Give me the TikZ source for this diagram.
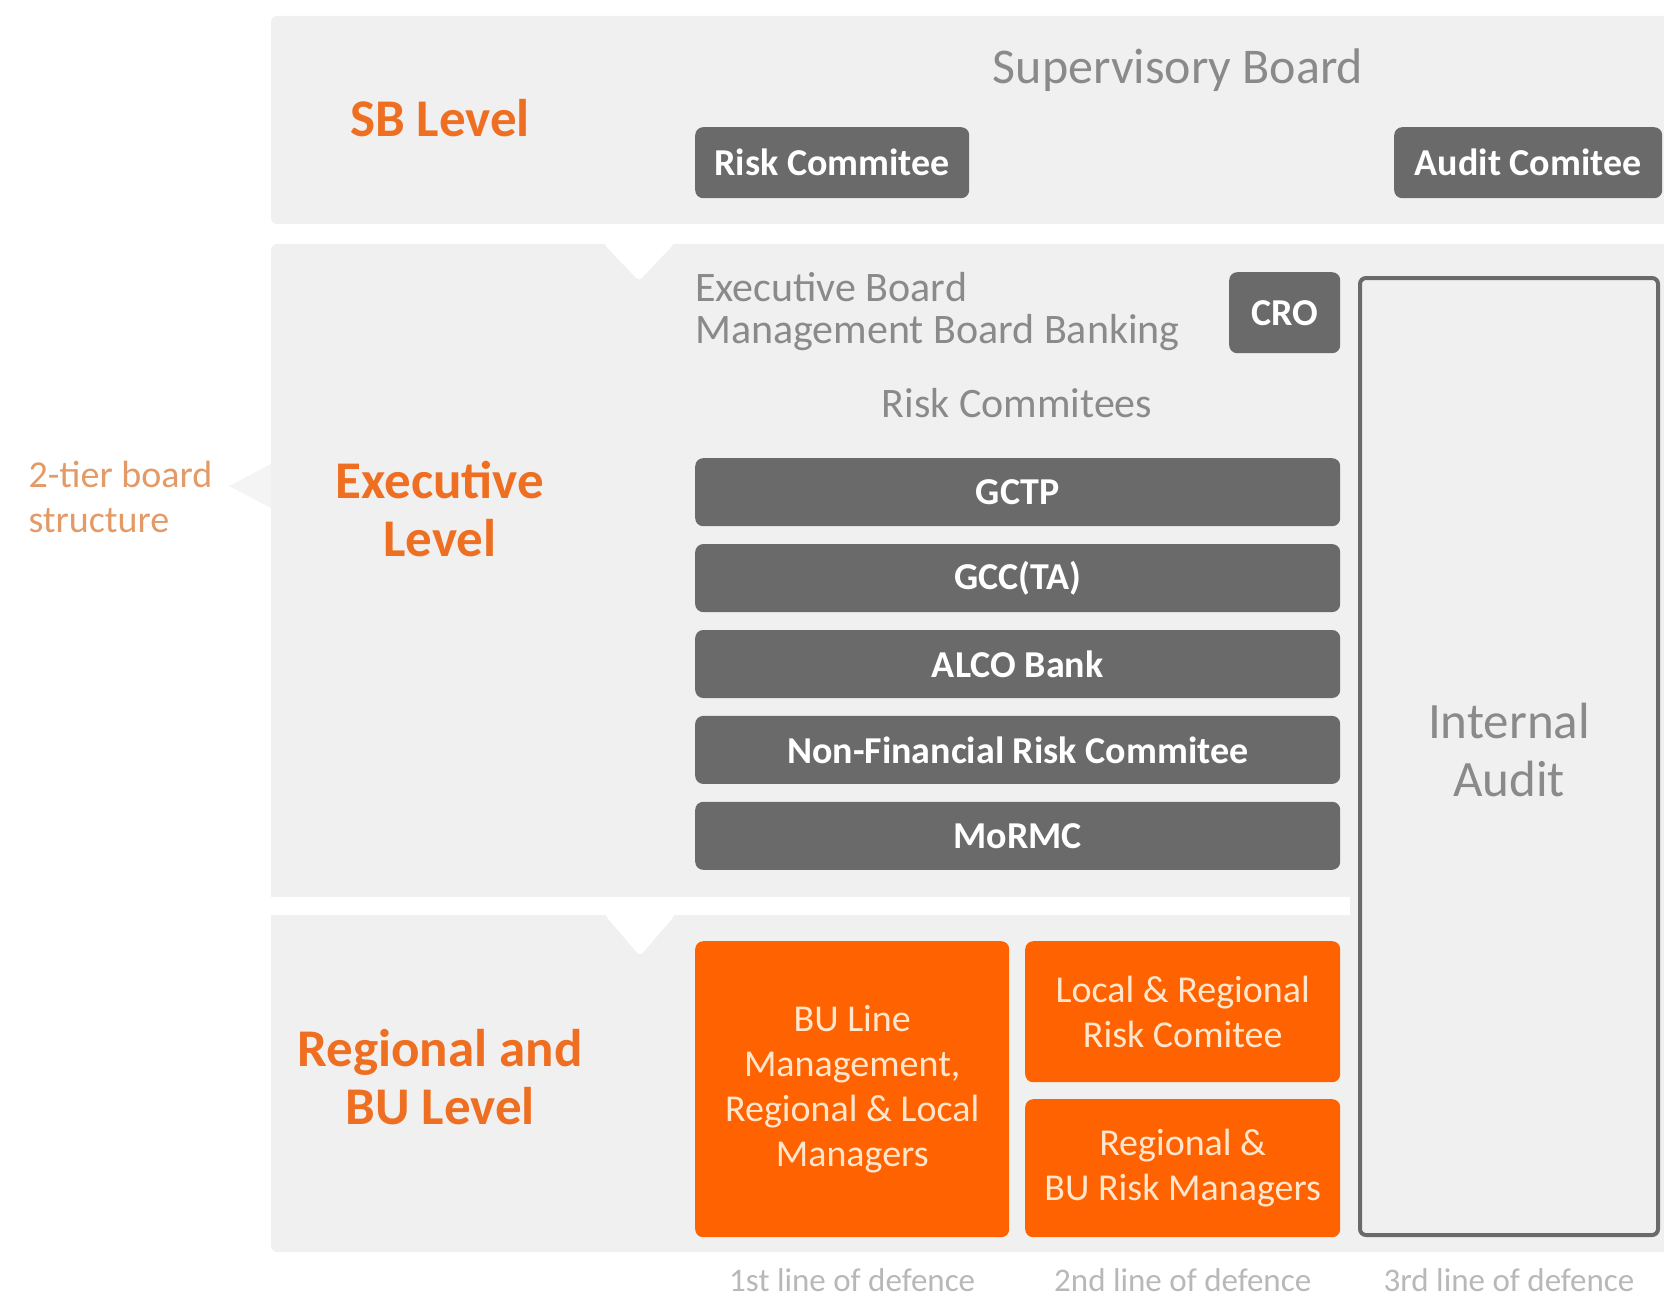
\documentclass[tikz,border=0pt]{standalone}
\usepackage{fontspec}
\setmainfont{Carlito}
\usepackage{tikz}
\usetikzlibrary{positioning}

\definecolor{panelgray}{HTML}{F0F0F0}
\definecolor{boxgray}{HTML}{6A6A6A}
\definecolor{ingorange}{HTML}{FF6200}
\definecolor{levelorange}{HTML}{EE6F22}
\definecolor{tierorange}{HTML}{E49A66}
\definecolor{softtext}{HTML}{8A8A8A}
\definecolor{linetext}{HTML}{B8B8B8}
\definecolor{boxtext}{HTML}{FFE6CC}

\tikzset{
	panel/.style={fill=panelgray, draw=none, rounded corners=6pt},
	notch/.style={fill=white, draw=none, rounded corners=4pt},
	darkbox/.style={fill=boxgray, text=white, rounded corners=8pt, inner sep=0pt,
		font=\fontsize{38}{44}\selectfont\bfseries},
	committee/.style={darkbox, minimum width=645pt, minimum height=68pt},
	orangebox/.style={fill=ingorange, text=boxtext, rounded corners=8pt, inner sep=0pt,
		align=center, font=\fontsize{38}{45}\selectfont},
	level/.style={text=levelorange, align=center, font=\fontsize{53}{58}\selectfont\bfseries},
	heading/.style={text=softtext, inner sep=0pt},
	defence/.style={text=linetext, font=\fontsize{33}{38}\selectfont},
	auditbox/.style={draw=boxgray, line width=4pt, fill=panelgray, rounded corners=6pt, inner sep=0pt}
}

\begin{document}
\begin{tikzpicture}[x=1pt, y=-1pt]
   \useasboundingbox (0,0) rectangle (1664,1297);

   % background bands
   \fill[panel] (271,16) rectangle (1700,224);
   \fill[panel] (271,244) rectangle (1700,1252);
   \fill[white] (271,897) rectangle (1350,915);
   \fill[notch] (603,243) -- (675,243) -- (639,281) -- cycle;
   \fill[notch] (604,914) -- (676,914) -- (640,956) -- cycle;
   \fill[fill=panelgray!70!white] (271,464) -- (229,486) -- (271,508) -- cycle;

   % level labels
   \node[level] (sbl) at (440,118) {SB Level};
   \node[level] (exl) at (440,509) {Executive\\Level};
   \node[level] (rgl) at (440,1077) {Regional and\\BU Level};
   \node[text=tierorange, align=left, anchor=west, font=\fontsize{38}{45}\selectfont] (tier) at (25,497) {2-tier board\\structure};

   % SB level
   \node[heading, font=\fontsize{50}{54}\selectfont] (sup) at (1178,70) {Supervisory Board};
   \node[darkbox, anchor=north west, minimum width=274pt, minimum height=71pt] (riskc) at (695,127) {Risk Commitee};
   \node[darkbox, anchor=north west, minimum width=268pt, minimum height=71pt] (auditc) at (1394,127) {Audit Comitee};

   % executive level
   \node[heading, align=left, anchor=north west, font=\fontsize{42}{42}\selectfont] (eb) at (695,272) {Executive Board\\Management Board Banking};
   \node[darkbox, anchor=north west, minimum width=111pt, minimum height=81pt] (cro) at (1229,272) {CRO};
   \node[heading, font=\fontsize{42}{46}\selectfont] (rcs) at (1017,403) {Risk Commitees};
   \node[committee, anchor=north west] (gctp) at (695,458) {GCTP};
   \node[committee, below=17.5pt of gctp] (gcc) {GCC(TA)};
   \node[committee, below=17.5pt of gcc] (alco) {ALCO Bank};
   \node[committee, below=17.5pt of alco] (nfr) {Non-Financial Risk Commitee};
   \node[committee, below=17.5pt of nfr] (mormc) {MoRMC};

   % internal audit
   \node[auditbox, anchor=north west, minimum width=298pt, minimum height=957pt] (ia) at (1358,276) {};
   \node[heading, align=center, font=\fontsize{51}{58}\selectfont] (ial) at ([yshift=7pt]ia.center) {Internal\\Audit};

   % regional and BU level
   \node[orangebox, anchor=north west, minimum width=314pt, minimum height=296pt] (bul) at (695,941) {BU Line\\Management,\\Regional \& Local\\Managers};
   \node[orangebox, anchor=north west, minimum width=315pt, minimum height=141pt] (lrr) at (1025,941) {Local \& Regional\\Risk Comitee};
   \node[orangebox, anchor=north west, minimum width=315pt, minimum height=138pt] (rbu) at (1025,1099) {Regional \&\\BU Risk Managers};

   % lines of defence
   \node[defence] (d1) at (bul.south |- 0,1280) {1st line of defence};
   \node[defence] (d2) at (lrr.south |- 0,1280) {2nd line of defence};
   \node[defence] (d3) at (ia.south |- 0,1280) {3rd line of defence};
\end{tikzpicture}
\end{document}
